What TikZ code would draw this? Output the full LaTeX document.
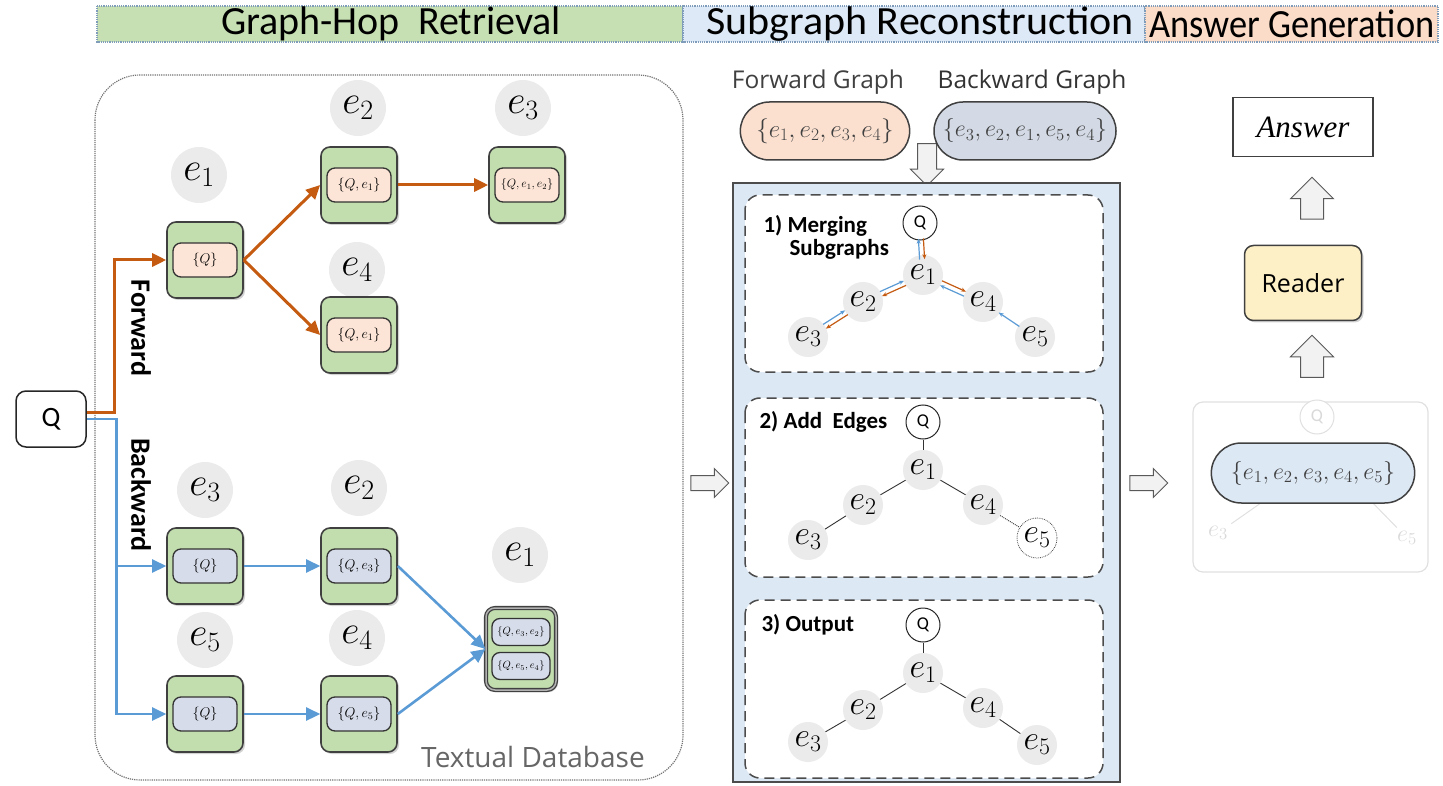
\RequirePackage{fix-cm}
\documentclass[tikz,border=0pt]{standalone}
\usepackage{fontspec}
\setmainfont{Carlito}
\newfontfamily\segoe{Open Sans}
\newfontfamily\serifit{Liberation Serif}
\usetikzlibrary{shapes.arrows,shapes.misc,shadows,arrows.meta,calc}
\definecolor{hgreen}{HTML}{C6DFB3}
\definecolor{hblue}{HTML}{DDE9F6}
\definecolor{horange}{HTML}{FBDCC8}
\definecolor{hborder}{HTML}{7F9DBA}
\definecolor{boxgreen}{HTML}{C3DEAE}
\definecolor{pinkfill}{HTML}{FCE4D6}
\definecolor{bluepill}{HTML}{D6DCEA}
\definecolor{orangeA}{HTML}{C55A11}
\definecolor{blueA}{HTML}{5B9BD5}
\definecolor{panelblue}{HTML}{DCE8F4}
\definecolor{fgpill}{HTML}{FBE0D0}
\definecolor{bgpill}{HTML}{D3DAE5}
\definecolor{readerfill}{HTML}{FDEFC6}
\definecolor{setpill}{HTML}{DDE8F5}
\newcommand\myfs[1]{\fontsize{#1}{#1}\selectfont}
\begin{document}
\begin{tikzpicture}[x=1pt,y=-1pt,
  gbox/.style={draw=black!75, line width=1.6pt, fill=boxgreen, rounded corners=9pt, minimum width=76pt, minimum height=76pt, inner sep=0pt, drop shadow={shadow xshift=2pt, shadow yshift=-2pt, opacity=0.35}},
  fpill/.style={draw=black!80, line width=1.3pt, fill=pinkfill, rounded corners=8pt, minimum width=64pt, minimum height=34pt, inner sep=1pt, font=\myfs{14}},
  bpill/.style={fpill, fill=bluepill},
  lab/.style={circle, fill=black!8, minimum size=56pt, inner sep=0pt, font=\myfs{40}},
  oarrow/.style={draw=orangeA, line width=3pt, -{Triangle[length=14pt,width=13pt]}},
  barrow/.style={draw=blueA, line width=2.6pt, -{Triangle[length=14pt,width=13pt]}},
  hollow/.style={single arrow, draw=black!65, fill=black!5, line width=1pt, inner xsep=0pt, inner ysep=7pt, minimum height=38pt, single arrow head extend=7pt},
  dbox/.style={draw=black!70, line width=1.5pt, dash pattern=on 10pt off 6pt, rounded corners=15pt, fill=white},
  mini/.style={circle, fill=black!8, minimum size=40pt, inner sep=0pt, font=\myfs{34}},
  qc/.style={circle, draw=black!85, line width=1pt, fill=white, minimum size=34pt, inner sep=0pt, font=\myfs{18}},
  mline/.style={draw=black!80, line width=0.9pt},
  so/.style={draw=orangeA, line width=1.2pt, -{Stealth[length=5pt,width=4pt]}},
  sb/.style={draw=blueA, line width=1.2pt, -{Stealth[length=5pt,width=4pt]}},
  steptitle/.style={font=\bfseries\myfs{23}, anchor=west, align=left}
]
\useasboundingbox (0,0) rectangle (1443,786);

% header
\draw[hborder, densely dotted, line width=1.2pt, fill=hgreen] (97,6) rectangle (683,42);
\draw[hborder, densely dotted, line width=1.2pt, fill=hblue] (683,6) rectangle (1145,42);
\draw[hborder, densely dotted, line width=1.2pt, fill=horange] (1145,6) rectangle (1438,42);
\node[font=\myfs{40}] (h1) at (391,24) {Graph-Hop\ \ Retrieval};
\node[font=\myfs{40}, xscale=1.05] (h2) at (920,24) {Subgraph Reconstruction};
\node[font=\myfs{40}, xscale=0.91] (h3) at (1292,24) {Answer Generation};

% textual database
\draw[black!55, densely dotted, line width=1.2pt, rounded corners=45pt] (95,75) rectangle (683,780);
\node[font=\segoe\myfs{28}, text=black!60] (tdb) at (533,757) {Textual Database};

% query
\node[draw=black!85, line width=1.5pt, rounded corners=10pt, minimum width=70pt, minimum height=56pt, fill=white, font=\myfs{28}] (Q) at (51,419) {Q};

% forward
\node[lab] (lf1) at (199,175) {$e_1$};
\node[lab] (lf2) at (358,108) {$e_2$};
\node[lab] (lf3) at (523,108) {$e_3$};
\node[lab] (lf4) at (357,270) {$e_4$};
\node[gbox] (fe1) at (205,260) {};
\node[gbox] (fe2) at (359,185) {};
\node[gbox] (fe3) at (527,185) {};
\node[gbox] (fe4) at (359,335) {};
\node[fpill] (fp1) at (fe1) {$\{Q\}$};
\node[fpill] (fp2) at (fe2) {$\{Q, e_1\}$};
\node[fpill, font=\myfs{12}] (fp3) at (fe3) {$\{Q, e_1, e_2\}$};
\node[fpill] (fp4) at (fe4) {$\{Q, e_1\}$};

% backward
\node[lab] (lb3) at (205,490) {$e_3$};
\node[lab] (lb2) at (359,488) {$e_2$};
\node[lab] (lb1) at (520,555) {$e_1$};
\node[lab] (lb5) at (205,640) {$e_5$};
\node[lab] (lb4) at (357,638) {$e_4$};
\node[gbox] (be3) at (205,566) {};
\node[gbox] (be2) at (359,566) {};
\node[gbox] (be5) at (205,714) {};
\node[gbox] (be4) at (359,714) {};
\node[gbox, minimum width=70pt, minimum height=82pt, double=black!30, double distance=1.5pt, line width=1.3pt] (be1) at (521,649) {};
\node[bpill] (bp3) at (be3) {$\{Q\}$};
\node[bpill] (bp2) at (be2) {$\{Q, e_3\}$};
\node[bpill] (bp5) at (be5) {$\{Q\}$};
\node[bpill] (bp4) at (be4) {$\{Q, e_5\}$};
\node[bpill, minimum width=58pt, minimum height=27pt, font=\myfs{10.5}] (bp1a) at (521,632) {$\{Q, e_3, e_2\}$};
\node[bpill, minimum width=58pt, minimum height=27pt, font=\myfs{10.5}] (bp1b) at (521,666) {$\{Q, e_5, e_4\}$};

% connectors left
\draw[oarrow] ([yshift=7pt]Q.east) -- ++(28,0) |- (fe1.west);
\draw[barrow] (Q.east) -- ++(30,0) |- (be3.west);
\draw[barrow] (Q.east) -- ++(30,0) |- (be5.west);
\draw[oarrow] (fe1.east) -- (fe2.west);
\draw[oarrow] (fe1.east) -- (fe4.west);
\draw[oarrow] (fe2.east) -- (fe3.west);
\draw[barrow] (be3.east) -- (be2.west);
\draw[barrow] (be5.east) -- (be4.west);
\draw[barrow] (be2.east) -- (be1.west);
\draw[barrow] (be4.east) -- (be1.west);
\node[rotate=-90, font=\bfseries\myfs{28}] (fwd) at (141,328) {Forward};
\node[rotate=-90, font=\bfseries\myfs{28}] (bwd) at (141,495) {Backward};

% middle section
\node[font=\segoe\myfs{24.5}, text=black!75] (fgt) at (818,82) {Forward Graph};
\node[font=\segoe\myfs{24.5}, text=black!80] (bgt) at (1032,82) {Backward Graph};
\node[hollow, rotate=-90, inner ysep=9pt, single arrow head extend=7pt, minimum height=42pt] (darr) at (927,160) {};
\node[rounded rectangle, draw=black!75, line width=1.5pt, fill=fgpill, minimum width=176pt, minimum height=58pt, font=\myfs{25}, text=black!75] (fg) at (825,131) {$\{e_1, e_2, e_3, e_4\}$};
\node[rounded rectangle, draw=black!75, line width=1.5pt, fill=bgpill, minimum width=186pt, minimum height=58pt, inner xsep=2pt, font=\myfs{24}, text=black!75] (bg) at (1025,131) {$\{e_3, e_2, e_1, e_5, e_4\}$};

\draw[draw=black!70, line width=1.3pt, fill=panelblue] (733,183) rectangle (1120,782);
\draw[dbox] (745,195) rectangle (1103,372);
\draw[dbox] (745,398) rectangle (1103,577);
\draw[dbox] (745,600) rectangle (1103,778);

% step 1
\node[steptitle] (t1) at (760,237) {1) Merging\\\hspace{26pt}Subgraphs};
\node[qc] (q1) at (920,223) {Q};
\node[mini] (a1) at (923,275) {$e_1$};
\node[mini] (a2) at (863,302) {$e_2$};
\node[mini] (a3) at (808,337) {$e_3$};
\node[mini] (a4) at (983,302) {$e_4$};
\node[mini] (a5) at (1035,337) {$e_5$};
\foreach \A/\B in {q1/a1, a1/a2, a2/a3, a1/a4}{
  \draw[so] ($(\A)!0.3!(\B)!2.5pt!90:(\B)$) -- ($(\A)!0.7!(\B)!2.5pt!90:(\B)$);
  \draw[sb] ($(\A)!0.7!(\B)!2.5pt!-90:(\B)$) -- ($(\A)!0.3!(\B)!2.5pt!-90:(\B)$);
}
\draw[sb] ($(a5)!0.3!(a4)$) -- ($(a5)!0.7!(a4)$);

% step 2
\node[steptitle] (t2) at (756,422) {2) Add\ \ Edges};
\node[qc] (q2) at (923,422) {Q};
\node[mini] (b1) at (923,470) {$e_1$};
\node[mini] (b2) at (863,505) {$e_2$};
\node[mini] (b3) at (808,540) {$e_3$};
\node[mini] (b4) at (983,505) {$e_4$};
\node[mini, draw=black!70, densely dotted, line width=0.8pt, fill=white] (b5) at (1037,538) {$e_5$};
\draw[mline] (q2) -- (b1);
\draw[mline] (b1) -- (b2);
\draw[mline] (b2) -- (b3);
\draw[mline] (b1) -- (b4);
\draw[mline, densely dotted] (b4) -- (b5);

% step 3
\node[steptitle] (t3) at (758,625) {3) Output};
\node[qc] (q3) at (923,625) {Q};
\node[mini] (c1) at (923,673) {$e_1$};
\node[mini] (c2) at (863,710) {$e_2$};
\node[mini] (c3) at (808,742) {$e_3$};
\node[mini] (c4) at (983,708) {$e_4$};
\node[mini] (c5) at (1037,745) {$e_5$};
\draw[mline] (q3) -- (c1);
\draw[mline] (c1) -- (c2);
\draw[mline] (c2) -- (c3);
\draw[mline] (c1) -- (c4);
\draw[mline] (c4) -- (c5);

% arrows between sections
\node[hollow] (rarr1) at (706,483) {};
\node[hollow] (rarr2) at (1145,483) {};

% right column
\draw[black!12, line width=1.2pt, rounded corners=10pt] (1193,402) rectangle (1428,572);
\node[qc, draw=black!12, text=black!15] (qf) at (1317,417) {Q};
\node[font=\myfs{24}, text=black!15] (fe3t) at (1218,533) {$e_3$};
\node[font=\myfs{24}, text=black!15] (fe5t) at (1407,538) {$e_5$};
\draw[black!12, line width=1pt] (1268,498) -- (fe3t);
\draw[black!12, line width=1pt] (1368,498) -- (fe5t);
\node[rounded rectangle, draw=black!75, line width=1.5pt, fill=setpill, minimum width=210pt, minimum height=60pt, font=\myfs{24}, text=black!75] (set) at (1313,473) {$\{e_1, e_2, e_3, e_4, e_5\}$};
\node[hollow, rotate=90, inner ysep=11pt, single arrow head extend=10pt, minimum height=42pt] (uarr1) at (1312,362) {};
\node[draw=black!75, line width=1.5pt, rounded corners=9pt, fill=readerfill, minimum width=117pt, minimum height=75pt, font=\segoe\myfs{25}, drop shadow={shadow xshift=2pt, shadow yshift=-2pt, opacity=0.35}] (reader) at (1303,283) {Reader};
\node[hollow, rotate=90, inner ysep=11pt, single arrow head extend=10pt, minimum height=42pt] (uarr2) at (1312,204) {};
\node[draw=black!75, line width=1.3pt, minimum width=140pt, minimum height=59pt, font=\serifit\itshape\myfs{31}] (ans) at (1303,127) {Answer};
\end{tikzpicture}
\end{document}
